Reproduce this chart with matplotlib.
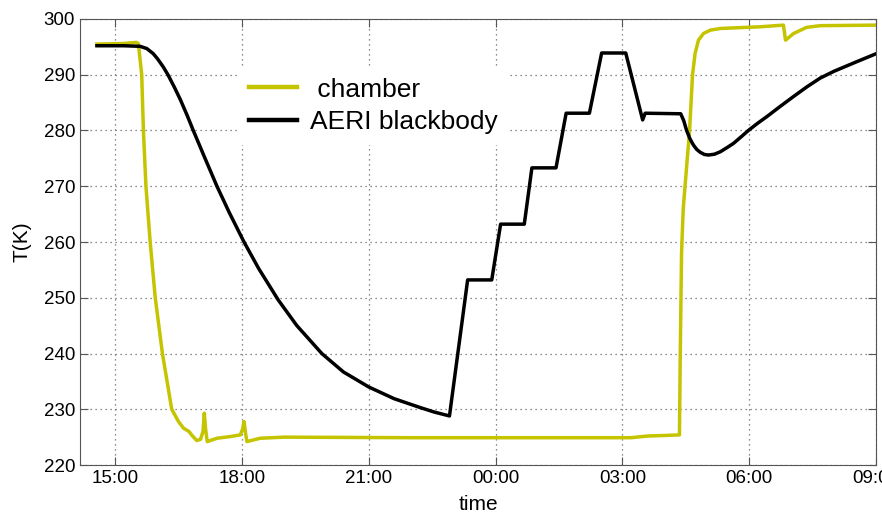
import numpy as np
import matplotlib.pyplot as plt

plt.rcParams['font.family'] = ['Liberation Sans', 'DejaVu Sans']

# time in hours from midnight of the first day (24+ is the next morning)
chamber_t = [14.57, 15.2, 15.5, 15.55, 15.63, 15.67, 15.73, 15.83, 15.95, 16.12,
             16.34, 16.50, 16.62, 16.75, 16.81, 16.93, 17.02, 17.08, 17.11, 17.14,
             17.18, 17.41, 17.72, 17.96, 18.02, 18.05, 18.09, 18.12, 18.43, 19.0,
             22.0, 25.0, 27.2, 27.6, 28.0, 28.35, 28.37, 28.40, 28.44, 28.52,
             28.59, 28.66, 28.72, 28.80, 28.92, 29.08, 29.32, 30.26, 30.81, 30.86,
             31.05, 31.36, 31.68, 32.98]
chamber_T = [295.5, 295.6, 295.8, 295.6, 290.0, 280.0, 270.0, 260.0, 250.0, 240.0,
             230.0, 227.8, 226.6, 226.0, 225.4, 224.4, 224.6, 226.0, 229.3, 226.5,
             224.2, 224.8, 225.1, 225.4, 226.5, 227.8, 225.5, 224.2, 224.8, 225.0,
             224.9, 224.9, 224.9, 225.2, 225.3, 225.4, 240.0, 258.0, 266.0, 273.5,
             280.0, 290.0, 293.8, 296.2, 297.4, 298.0, 298.3, 298.6, 298.9, 296.2,
             297.4, 298.5, 298.8, 298.9]

bb_t = [14.57, 15.2, 15.59, 15.75, 15.9, 16.0, 16.14, 16.25, 16.4, 16.54,
        16.7, 16.85, 17.1, 17.41, 17.7, 18.05, 18.4, 18.86, 19.3, 19.89,
        20.4, 21.0, 21.6, 22.22, 22.55, 22.91,
        23.34, 23.91, 24.12, 24.68, 24.86, 25.43, 25.67, 26.22, 26.51, 27.08,
        27.48, 27.54, 28.38, 28.45, 28.52, 28.6, 28.68, 28.76, 28.84, 28.94,
        29.04, 29.18, 29.32, 29.47, 29.63, 29.8, 29.98, 30.2, 30.42, 30.73,
        31.05, 31.36, 31.68, 32.0, 32.5, 32.98]
bb_T = [295.2, 295.2, 295.1, 294.7, 293.8, 292.9, 291.4, 290.0, 287.8, 285.6,
        282.8, 280.0, 275.5, 270.0, 265.3, 260.0, 255.2, 249.6, 245.0, 240.0,
        236.7, 234.0, 231.9, 230.3, 229.5, 228.8,
        253.2, 253.2, 263.2, 263.2, 273.3, 273.3, 283.1, 283.1, 293.9, 293.9,
        281.9, 283.1, 283.0, 281.8, 280.0, 278.5, 277.4, 276.6, 276.1, 275.7,
        275.6, 275.75, 276.2, 276.9, 277.7, 278.8, 280.0, 281.3, 282.5, 284.3,
        286.1, 287.8, 289.4, 290.6, 292.2, 293.7]

tick_hours = [15, 18, 21, 24, 27, 30, 33]
tick_labels = ['15:00', '18:00', '21:00', '00:00', '03:00', '06:00', '09:00']

fig = plt.figure(figsize=(8.82, 5.16), dpi=100)
ax = fig.add_axes([0.0907, 0.0988, 0.9025, 0.8644])

ax.plot(chamber_t, chamber_T, color='#c4c400', lw=2.5, label=' chamber')
ax.plot(bb_t, bb_T, color='black', lw=2.5, label='AERI blackbody')

ax.set_xlim(14.17, 33.0)
ax.set_ylim(220, 300)
ax.set_xticks(tick_hours)
ax.set_xticklabels(tick_labels)
ax.set_yticks(np.arange(220, 301, 10))

ax.grid(True, linestyle=(0, (1, 3)), color='#666666', lw=0.9)
ax.tick_params(direction='in', top=True, right=True, length=6,
               labelsize=13.5, color='#555555')
for s in ax.spines.values():
    s.set_color('#555555')

ax.set_xlabel('time', fontsize=15, labelpad=6)
ax.set_ylabel('T(K)', fontsize=15, labelpad=9)

leg = ax.legend(loc='upper left', bbox_to_anchor=(0.183, 0.922), fontsize=19,
                handlelength=1.8, handletextpad=0.5, labelspacing=0.33,
                frameon=True, fancybox=False, edgecolor='none',
                facecolor='white', framealpha=1.0, borderpad=0.4)
for line in leg.get_lines():
    line.set_linewidth(3.2)

fig.savefig('out.png', dpi=100)
